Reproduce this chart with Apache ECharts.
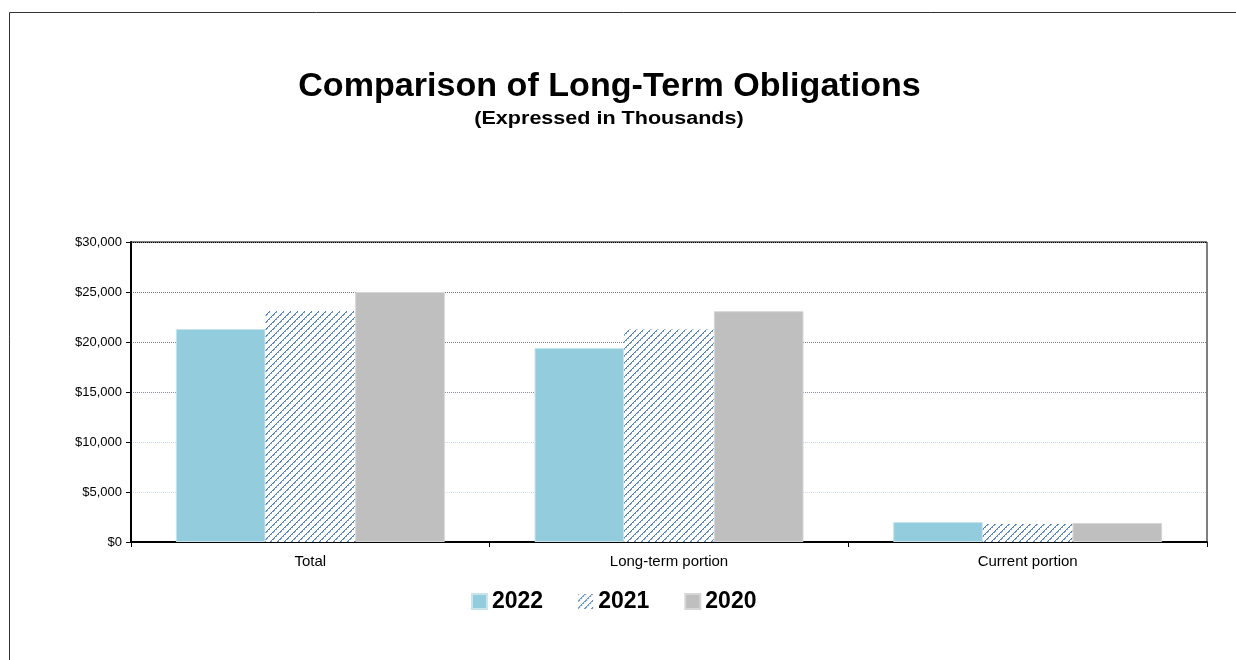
<!DOCTYPE html>
<html>
<head>
<meta charset="utf-8">
<script src="https://cdn.jsdelivr.net/npm/echarts@6/dist/echarts.min.js"></script>
<style>html,body{margin:0;padding:0;background:#fff}#c{width:1236px;height:660px}</style>
</head>
<body>
<div id="c"></div>
<script>
const titleText = 'Comparison of Long-Term Obligations';
const subtitleText = '(Expressed in Thousands)';
const categories = ['Total', 'Long-term portion', 'Current portion'];
const seriesNames = ['2022', '2021', '2020'];
const values2022 = [21300, 19400, 2000];
const values2021 = [23100, 21250, 1800];
const values2020 = [25000, 23080, 1900];
const yTicks = [0, 5000, 10000, 15000, 20000, 25000, 30000];

// hatch pattern for 2021
const pc = document.createElement('canvas');
pc.width = 7; pc.height = 7;
const px = pc.getContext('2d');
px.fillStyle = '#ffffff'; px.fillRect(0, 0, 7, 7);
for (let i = 0; i < 7; i++) {
  px.fillStyle = '#4a7cbd';
  px.fillRect((6 - i + 7) % 7, i, 1, 1);
  if (i % 2 === 0) {
    px.fillStyle = '#7fa3d2';
    px.fillRect((7 - i + 7) % 7, i, 1, 1);
  }
}
const hatch = { image: pc, repeat: 'repeat' };

const FONT = 'Liberation Sans, Arial, sans-serif';
const chart = echarts.init(document.getElementById('c'));
const fmt = v => '$' + v.toLocaleString('en-US');
chart.setOption({
  animation: false,
  backgroundColor: '#fff',
  legend: {
    data: seriesNames, top: 585, left: 466,
    itemWidth: 15, itemHeight: 15, itemGap: 35, icon: 'rect',
    textStyle: { fontFamily: FONT, fontWeight: 'bold', fontSize: 23, color: '#000' }
  },
  graphic: [
    { type: 'rect', silent: true, x: 0, y: 0,
      shape: { x: 9.5, y: 12.5, width: 1400, height: 800 },
      style: { fill: 'none', stroke: '#333', lineWidth: 1 } },
    { type: 'text', silent: true, x: 609.5, y: 87, scaleX: 1.1, scaleY: 1.05,
      style: { text: titleText, fontFamily: FONT, fontWeight: 'bold', fontSize: 31, fill: '#000', align: 'center', verticalAlign: 'middle', textAlign: 'center', textVerticalAlign: 'middle' } },
    { type: 'text', silent: true, x: 609, y: 119, scaleX: 1.197,
      style: { text: subtitleText, fontFamily: FONT, fontWeight: 'bold', fontSize: 18, fill: '#000', align: 'center', verticalAlign: 'middle', textAlign: 'center', textVerticalAlign: 'middle' } }
  ],
  grid: { left: 131, right: 29, top: 242, bottom: 118, show: true, borderColor: '#000', borderWidth: 1, backgroundColor: 'transparent' },
  xAxis: {
    type: 'category', data: categories,
    axisLine: { lineStyle: { color: '#000', width: 2 } },
    axisTick: { show: true, length: 5, lineStyle: { color: '#000' } },
    axisLabel: { color: '#000', fontFamily: FONT, fontSize: 15, margin: 12 }
  },
  yAxis: {
    type: 'value', min: yTicks[0], max: yTicks[yTicks.length - 1], interval: yTicks[1] - yTicks[0],
    axisLine: { show: true, lineStyle: { color: '#000', width: 2 } },
    axisTick: { show: true, length: 5, lineStyle: { color: '#000' } },
    axisLabel: { color: '#000', fontFamily: FONT, fontSize: 13, margin: 9, formatter: fmt },
    splitLine: { show: true, lineStyle: { type: 'dotted', width: 1, color: ['#888', '#d4e0ee', '#c9d8ea', '#8a8f9a', '#808080', '#707070', '#000'] } }
  },
  series: [
    { name: '2022', type: 'bar', data: values2022, barGap: '0%', barCategoryGap: '25%',
      itemStyle: { color: '#93ccdc', borderColor: '#c8e4ec', borderWidth: 1 } },
    { name: '2021', type: 'bar', data: values2021,
      itemStyle: { color: hatch, borderWidth: 0 } },
    { name: '2020', type: 'bar', data: values2020,
      itemStyle: { color: '#bfbfbf', borderColor: '#d6d6d6', borderWidth: 1 } }
  ]
});
</script>
</body>
</html>
